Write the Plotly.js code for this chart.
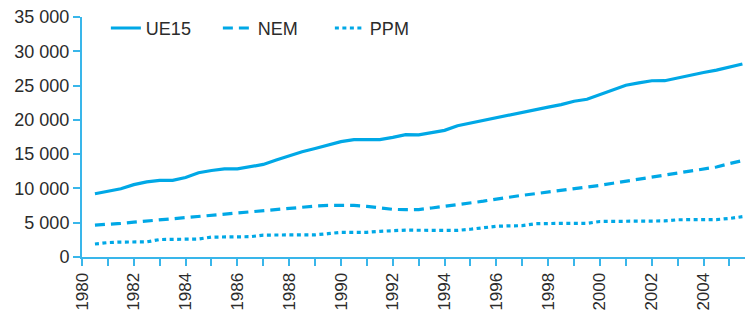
<!DOCTYPE html>
<html>
<head>
<meta charset="utf-8">
<script src="https://cdn.plot.ly/plotly-3.0.1.min.js"></script>
<style>
  html, body { margin: 0; padding: 0; background: #fff; }
  #chart { width: 745px; height: 310px; }
</style>
</head>
<body>
<div id="chart"></div>
<script>
// Half-year time points
const years = [
  1980.5, 1981.0, 1981.5, 1982.0, 1982.5, 1983.0, 1983.5, 1984.0, 1984.5, 1985.0,
  1985.5, 1986.0, 1986.5, 1987.0, 1987.5, 1988.0, 1988.5, 1989.0, 1989.5, 1990.0,
  1990.5, 1991.0, 1991.5, 1992.0, 1992.5, 1993.0, 1993.5, 1994.0, 1994.5, 1995.0,
  1995.5, 1996.0, 1996.5, 1997.0, 1997.5, 1998.0, 1998.5, 1999.0, 1999.5, 2000.0,
  2000.5, 2001.0, 2001.5, 2002.0, 2002.5, 2003.0, 2003.5, 2004.0, 2004.5, 2005.0,
  2005.5
];
const ue15 = [
  9230, 9620, 9950, 10550, 10950, 11180, 11180, 11600, 12280, 12620,
  12840, 12840, 13180, 13500, 14150, 14780, 15350, 15830, 16330, 16830,
  17110, 17110, 17110, 17450, 17840, 17820, 18100, 18470, 19150, 19550,
  19950, 20300, 20650, 21150, 21520, 21850, 22220, 22720, 23000, 23700,
  24400, 25050, 25400, 25700, 25710, 26130, 26560, 26900, 27250, 27700,
  28150
];
const nem = [
  4650, 4750, 4900, 5080, 5250, 5440, 5620, 5800, 5950, 6080,
  6200, 6380, 6600, 6760, 6950, 7150, 7280, 7420, 7520, 7540,
  7520, 7380, 7130, 6950, 6900, 6920, 7150, 7380, 7580, 7830,
  8140, 8450, 8760, 9000, 9230, 9460, 9720, 9950, 10120, 10450,
  10760, 11060, 11300, 11620, 11850, 12150, 12450, 12750, 13130, 13620,
  14050
];
const ppm = [
  1900, 2100, 2180, 2200, 2200, 2550, 2580, 2580, 2620, 2900,
  2920, 2920, 2960, 3200, 3210, 3210, 3210, 3230, 3400, 3600,
  3600, 3600, 3750, 3890, 3920, 3900, 3890, 3890, 3890, 4050,
  4300, 4480, 4540, 4570, 4850, 4910, 4910, 4910, 4910, 5180,
  5200, 5200, 5200, 5200, 5260, 5430, 5440, 5440, 5460, 5620,
  5880
];
const seriesNames = ['UE15', 'NEM', 'PPM'];

const yTickVals = [0, 5000, 10000, 15000, 20000, 25000, 30000, 35000];
const yTickText = ['0', '5 000', '10 000', '15 000', '20 000', '25 000', '30 000', '35 000'];

const xTickVals = [];
const xTickText = [];
for (let y = 1980; y <= 2005; y++) {
  xTickVals.push(y);
  xTickText.push(y % 2 === 0 ? String(y) : '');
}

const blue = '#00A8E6';
const axisBlue = '#39B6EA';
const textColor = '#2b2b2b';
const fontFam = 'Liberation Sans, Arial, sans-serif';

const traces = [
  { x: years, y: ue15, name: seriesNames[0], mode: 'lines', line: { color: blue, width: 3.2, dash: 'solid' } },
  { x: years, y: nem,  name: seriesNames[1], mode: 'lines', line: { color: blue, width: 3.2, dash: '10px,6px' } },
  { x: years, y: ppm,  name: seriesNames[2], mode: 'lines', line: { color: blue, width: 3.2, dash: '4px,3.5px' } }
];

const layout = {
  width: 745,
  height: 310,
  margin: { l: 82, r: 0, t: 17, b: 53, pad: 0 },
  paper_bgcolor: '#ffffff',
  plot_bgcolor: '#ffffff',
  font: { family: fontFam, size: 18, color: textColor },
  showlegend: true,
  legend: {
    orientation: 'h',
    x: 0.036, xanchor: 'left',
    y: 1.03, yanchor: 'top',
    bgcolor: 'rgba(0,0,0,0)',
    font: { family: fontFam, size: 18, color: textColor },
    entrywidth: 67,
    entrywidthmode: 'pixels',
    traceorder: 'normal'
  },
  xaxis: {
    range: [1980, 2005.6],
    showgrid: false,
    zeroline: false,
    showline: true,
    linecolor: axisBlue,
    linewidth: 2,
    ticks: 'outside',
    ticklen: 7,
    tickwidth: 2,
    tickcolor: axisBlue,
    tickmode: 'array',
    tickvals: xTickVals,
    ticktext: xTickText,
    tickangle: -90,
    tickfont: { family: fontFam, size: 17, color: textColor },
    fixedrange: true
  },
  yaxis: {
    range: [0, 35000],
    showgrid: false,
    zeroline: false,
    showline: true,
    linecolor: axisBlue,
    linewidth: 2,
    ticks: 'outside',
    ticklen: 7,
    tickwidth: 2,
    tickcolor: axisBlue,
    tickmode: 'array',
    tickvals: yTickVals,
    ticktext: yTickText,
    tickfont: { family: fontFam, size: 18, color: textColor },
    fixedrange: true
  }
};

Plotly.newPlot('chart', traces, layout, { displayModeBar: false, staticPlot: true });
</script>
</body>
</html>
